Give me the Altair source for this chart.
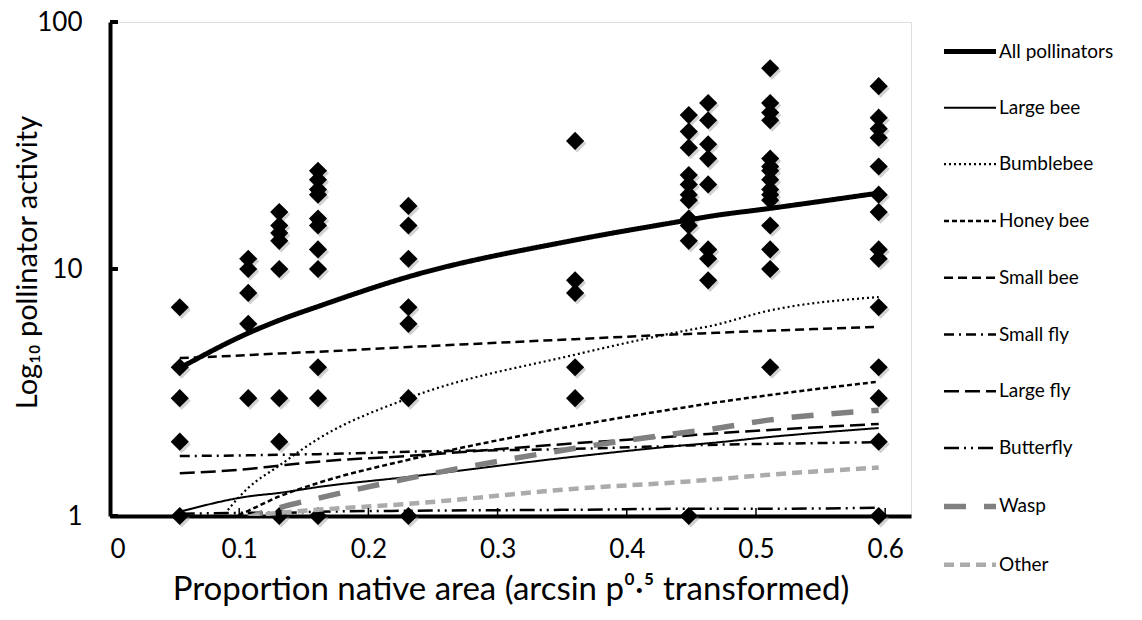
import altair as alt
import pandas as pd

# x position (arcsin sqrt proportion native area) of each site
site_x = [0.054, 0.107, 0.131, 0.161, 0.231, 0.360, 0.448, 0.463, 0.511, 0.595]

# observed pollinator activity (all pollinators) per site
obs_site1 = [7, 4, 3, 2, 1]
obs_site2 = [11, 10, 8, 6, 3]
obs_site3 = [17, 15, 14, 13, 10, 3, 2, 1]
obs_site4 = [25, 23, 21, 20, 16, 15, 12, 10, 4, 3, 1]
obs_site5 = [18, 15, 11, 7, 6, 3, 1]
obs_site6 = [33, 9, 8, 4, 3]
obs_site7 = [42, 36, 31, 24, 22, 20, 19, 16, 15, 13, 1]
obs_site8 = [47, 40, 32, 28, 22, 12, 11, 9]
obs_site9 = [65, 47, 43, 40, 28, 26, 25, 23, 21, 20, 19, 15, 12, 10, 4]
obs_site10 = [55, 41, 37, 34, 26, 20, 17, 12, 11, 7, 4, 3, 2, 1]

# fitted activity per group at each site
series_names = ["All pollinators", "Large bee", "Bumblebee", "Honey bee", "Small bee",
                "Small fly", "Large fly", "Butterfly", "Wasp", "Other"]
fit_all = [3.97, 5.5, 6.2, 7.05, 9.3, 13.1, 15.8, 16.3, 17.6, 20.3]
fit_large_bee = [1.04, 1.20, 1.24, 1.31, 1.44, 1.74, 1.94, 1.97, 2.09, 2.27]
fit_bumblebee = [0.55, 1.30, 1.60, 2.05, 3.0, 4.5, 5.66, 5.85, 6.8, 7.7]
fit_honey_bee = [0.80, 1.05, 1.20, 1.36, 1.69, 2.32, 2.77, 2.85, 3.09, 3.5]
fit_small_bee = [4.36, 4.48, 4.55, 4.62, 4.83, 5.2, 5.46, 5.5, 5.63, 5.83]
fit_small_fly = [1.75, 1.76, 1.77, 1.78, 1.82, 1.87, 1.93, 1.94, 1.96, 1.99]
fit_large_fly = [1.49, 1.55, 1.60, 1.66, 1.75, 1.97, 2.12, 2.15, 2.23, 2.36]
fit_butterfly = [1.02, 1.03, 1.03, 1.04, 1.05, 1.06, 1.07, 1.07, 1.07, 1.08]
fit_wasp = [0.6, 0.98, 1.08, 1.18, 1.42, 1.88, 2.19, 2.24, 2.45, 2.68]
fit_other = [0.7, 0.99, 1.03, 1.06, 1.12, 1.29, 1.38, 1.40, 1.47, 1.57]

x_tick_values = [0, 0.1, 0.2, 0.3, 0.4, 0.5, 0.6]
y_tick_values = [1, 10, 100]

# ---- build tables ----
obs_lists = [obs_site1, obs_site2, obs_site3, obs_site4, obs_site5,
             obs_site6, obs_site7, obs_site8, obs_site9, obs_site10]
obs_rows = []
for xv, vals in zip(site_x, obs_lists):
    for v in vals:
        obs_rows.append({"x": xv, "y": v})
obs_df = pd.DataFrame(obs_rows)

fits = [fit_all, fit_large_bee, fit_bumblebee, fit_honey_bee, fit_small_bee,
        fit_small_fly, fit_large_fly, fit_butterfly, fit_wasp, fit_other]
fit_rows = []
for name, vals in zip(series_names, fits):
    for i, (xv, v) in enumerate(zip(site_x, vals)):
        fit_rows.append({"series": name, "x": xv, "y": v, "order": i})
fit_df = pd.DataFrame(fit_rows)

xt_df = pd.DataFrame({"x": x_tick_values[1:]})
yt_df = pd.DataFrame({"y": y_tick_values})

FONT = "Lato"

x_scale = alt.Scale(domain=[0, 0.62], nice=False, zero=False)
y_scale = alt.Scale(type="log", domain=[1, 100], nice=False)

x_axis = alt.Axis(values=x_tick_values, format=".1~f", tickSize=0, labelPadding=20,
                  domainWidth=4, domainColor="black", grid=False,
                  labelFont=FONT, labelFontSize=26, labelColor="black",
                  title="Proportion native area (arcsin p⁰·⁵ transformed)",
                  titleFont=FONT, titleFontSize=33, titleFontWeight="normal",
                  titleColor="black", titleY=73, titleBaseline="middle")
y_axis = alt.Axis(values=y_tick_values, format="d", tickSize=0, labelPadding=28,
                  domainWidth=4, domainColor="black", grid=False,
                  labelFont=FONT, labelFontSize=26, labelColor="black",
                  title="Log₁₀ pollinator activity",
                  titleFont=FONT, titleFontSize=29, titleFontWeight="normal",
                  titleColor="black", titleX=-83, titleY=240, titleAlign="center",
                  titleBaseline="middle")

dash_range = [[1, 0], [1, 0], [2, 3], [5, 3], [9, 5], [10, 5, 2, 5],
              [15, 6], [15, 5, 2, 5, 2, 5], [22, 18], [10, 6]]
color_range = ["black", "black", "black", "black", "black", "black", "black",
               "black", "#808080", "#ababab"]
width_range = [5, 2, 2.2, 2.5, 2.5, 2.5, 2.5, 2.5, 5.5, 4.5]

legend = alt.Legend(orient="none", legendX=831, legendY=1, title=None,
                    symbolType="stroke", symbolSize=2704, labelFont=FONT,
                    labelFontSize=19, labelColor="black", rowPadding=18.8,
                    labelOffset=0, labelLimit=300)

shadow = alt.Chart(obs_df).mark_point(shape="diamond", filled=True, size=330,
                                      color="#9a9a9a", opacity=0.45,
                                      xOffset=2, yOffset=2.5).encode(
    x=alt.X("x:Q", scale=x_scale, axis=x_axis),
    y=alt.Y("y:Q", scale=y_scale, axis=y_axis),
)
points = alt.Chart(obs_df).mark_point(shape="diamond", filled=True, size=330,
                                      color="black", opacity=1).encode(
    x=alt.X("x:Q", scale=x_scale),
    y=alt.Y("y:Q", scale=y_scale),
)
lines = alt.Chart(fit_df).mark_line(clip=True, interpolate="monotone").encode(
    x=alt.X("x:Q", scale=x_scale),
    y=alt.Y("y:Q", scale=y_scale),
    order="order:Q",
    strokeDash=alt.StrokeDash("series:N", scale=alt.Scale(type="ordinal", domain=series_names, range=dash_range), legend=legend),
    color=alt.Color("series:N", scale=alt.Scale(type="ordinal", domain=series_names, range=color_range), legend=legend),
    strokeWidth=alt.StrokeWidth("series:N", scale=alt.Scale(type="ordinal", domain=series_names, range=width_range), legend=legend),
)
xticks = alt.Chart(xt_df).mark_rule(color="black", strokeWidth=1.5).encode(
    x=alt.X("x:Q", scale=x_scale),
    y=alt.value(486), y2=alt.value(494),
)
yticks = alt.Chart(yt_df).mark_rule(color="black", strokeWidth=4).encode(
    y=alt.Y("y:Q", scale=y_scale),
    x=alt.value(0), x2=alt.value(8),
)

chart = alt.layer(shadow, points, lines, xticks, yticks).properties(
    width=801, height=494,
    padding={"left": 102, "top": 14, "right": 215, "bottom": 90},
    autosize=alt.AutoSizeParams(type="none"),
).configure_view(stroke="black", strokeWidth=3).configure(background="white")

chart.save("out.html", embed_options={"renderer": "svg", "actions": False})
